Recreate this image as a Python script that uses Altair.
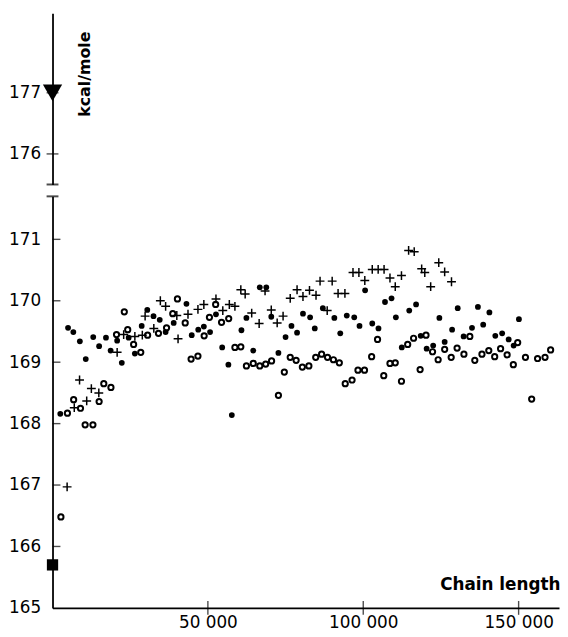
import altair as alt
import pandas as pd

# ---- data ----
filled_x = [2500, 5000, 6700, 8800, 10700, 13100, 15000, 17200, 18700, 20800, 22300, 24500,
            26500, 28700, 30500, 32500, 34500, 36400, 39000, 43100, 44800, 46900, 48700,
            50700, 52600, 54600, 56600, 57700, 60800, 62400, 64600, 66700, 68800, 70400, 72700,
            75000, 76900, 78700, 80600, 82900, 84400, 87000, 90700, 92600, 94700, 97100, 98800,
            100600, 102900, 104900, 107000, 109100, 110500, 112400, 114800, 117000, 118500,
            120400, 122500, 124500, 126200, 128600, 130400, 132300, 135000, 136900, 138600,
            140600, 142500, 144700, 146800, 148400, 150100]
filled_y = [168.16, 169.56, 169.49, 169.34, 169.05, 169.41, 169.26, 169.40, 169.19, 169.35, 168.99, 169.40,
            169.14, 169.59, 169.85, 169.75, 169.69, 169.49, 169.64, 169.95, 169.44, 169.53, 169.58,
            169.49, 169.78, 169.24, 168.96, 168.14, 169.52, 169.72, 169.19, 170.22, 170.22, 169.74, 169.15,
            169.41, 169.59, 169.48, 169.79, 169.73, 169.55, 169.88, 169.72, 169.47, 169.76, 169.73, 169.59,
            170.17, 169.63, 169.55, 169.98, 170.04, 169.73, 169.24, 169.84, 169.94, 169.43,
            169.22, 169.27, 169.72, 169.33, 169.53, 169.88, 169.42, 169.56, 169.90, 169.61,
            169.81, 169.43, 169.47, 169.37, 169.27, 169.70]

open_x = [2700, 4800, 6800, 9000, 10500, 13000, 15000, 16500, 18800, 20600, 23100, 24200, 26100,
          28400, 30600, 34100, 36700, 38700, 40200, 42700, 44600, 46800, 48800, 50500, 52500,
          54400, 56700, 58700, 60600, 62400, 64600, 66700, 68600, 70500, 72700, 74600, 76500,
          78400, 80400, 82500, 84700, 86600, 88500, 90400, 92300, 94200, 96400, 98300, 100400,
          102700, 104600, 106600, 108600, 110300, 112300, 114300, 116200, 118300, 120200,
          122300, 124100, 126200, 128300, 130200, 132400, 134300, 135900, 138200, 140400,
          142300, 144200, 146300, 148300, 149700, 152200, 154200, 156100, 158500, 160300]
open_y = [166.48, 168.17, 168.39, 168.25, 167.98, 167.98, 168.36, 168.65, 168.59, 169.45, 169.82, 169.53, 169.29,
          169.16, 169.44, 169.47, 169.56, 169.79, 170.03, 169.64, 169.05, 169.10, 169.43, 169.73, 169.94,
          169.65, 169.71, 169.24, 169.25, 168.94, 168.98, 168.94, 168.97, 169.02, 168.46, 168.84, 169.08,
          169.03, 168.92, 168.94, 169.08, 169.13, 169.08, 169.04, 168.99, 168.65, 168.71, 168.87, 168.87,
          169.09, 169.37, 168.78, 168.98, 168.99, 168.69, 169.29, 169.39, 168.88, 169.44,
          169.17, 169.04, 169.21, 169.08, 169.23, 169.13, 169.42, 169.03, 169.13, 169.19,
          169.09, 169.22, 169.12, 168.96, 169.32, 169.08, 168.40, 169.06, 169.08, 169.20]

plus_x = [4700, 7000, 8700, 11000, 12500, 14900, 20800, 22900, 26500, 28900, 29800, 32600,
          34700, 36400, 40000, 40400, 43600, 46800, 48700, 52600, 54800, 56900, 58700, 60600,
          62000, 64100, 66500, 68400, 70400, 72300, 74200, 76500, 78700, 80600, 82700, 84800,
          86100, 88400, 90000, 91900, 94100, 96700, 98600, 100500, 102900, 104800, 106700,
          108600, 110300, 112300, 114600, 116400, 118800, 119800, 121700, 124300, 126200, 128400]
plus_y = [166.97, 168.26, 168.71, 168.37, 168.57, 168.50, 169.16, 169.45, 169.42, 169.44, 169.75, 169.55,
          170.00, 169.91, 169.76, 169.38, 169.78, 169.86, 169.94, 170.03, 169.84, 169.94, 169.91, 170.18,
          170.11, 169.80, 169.63, 170.16, 169.85, 169.64, 169.75, 170.04, 170.18, 170.07, 170.17, 170.09,
          170.32, 169.84, 170.32, 170.12, 170.12, 170.46, 170.46, 170.33, 170.51, 170.51, 170.51,
          170.37, 170.23, 170.41, 170.82, 170.80, 170.52, 170.46, 170.23, 170.62, 170.47, 170.31]

square_x = [0]
square_y = [165.7]
triangle_x = [0]
triangle_y = [177.0]

lower_ticks = [165, 166, 167, 168, 169, 170, 171]
upper_ticks = [176, 177]
x_ticks = [50000, 100000, 150000]
lower_break = [171.7]
upper_break = [175.5]

X_DOMAIN = [0, 163000]
LOWER_DOMAIN = [165, 171.7]
UPPER_DOMAIN = [175.5, 178.3]

FONT = "DejaVu Sans"
W = 512
H_LOW = 416
H_UP = 173

xscale = alt.Scale(domain=X_DOMAIN, nice=False, zero=False)
lscale = alt.Scale(domain=LOWER_DOMAIN, nice=False, zero=False)
uscale = alt.Scale(domain=UPPER_DOMAIN, nice=False, zero=False)

x_axis = alt.Axis(values=x_ticks, ticks=False, grid=False, domainColor="black", domainWidth=1.6,
                  labelExpr="replace(format(datum.value, ','), ',', ' ')",
                  labelFont=FONT, labelFontSize=17, labelColor="black", labelPadding=7,
                  title="Chain length", titleFont=FONT, titleFontSize=17, titleFontWeight="bold",
                  titleColor="black", titleX=W + 1, titleY=-24, titleAlign="right",
                  titleBaseline="middle", titleAnchor="end")

y_axis_low = alt.Axis(values=lower_ticks, ticks=False, grid=False, domainColor="black",
                      domainWidth=1.8, format="d", labelFont=FONT, labelFontSize=17,
                      labelColor="black", labelPadding=12, title=None)

y_axis_up = alt.Axis(values=upper_ticks, ticks=False, grid=False, domainColor="black",
                     domainWidth=1.8, format="d", labelFont=FONT, labelFontSize=17,
                     labelColor="black", labelPadding=12,
                     title="kcal/mole", titleFont=FONT, titleFontSize=16, titleFontWeight="bold",
                     titleColor="black", titleAngle=270, titleX=32, titleY=61,
                     titleAlign="center", titleBaseline="middle")

df_f = pd.DataFrame({"x": filled_x, "y": filled_y})
df_o = pd.DataFrame({"x": open_x, "y": open_y})
df_p = pd.DataFrame({"x": plus_x, "y": plus_y})
df_sq = pd.DataFrame({"x": square_x, "y": square_y})
df_tri = pd.DataFrame({"x": triangle_x, "y": triangle_y})
df_lt = pd.DataFrame({"y": [t for t in lower_ticks if t != LOWER_DOMAIN[0]]})
df_ut = pd.DataFrame({"y": upper_ticks})
df_xt = pd.DataFrame({"x": x_ticks})
df_lb = pd.DataFrame({"y": lower_break})
df_ub = pd.DataFrame({"y": upper_break})

X = alt.X("x:Q", scale=xscale, axis=x_axis)
Y = alt.Y("y:Q", scale=lscale, axis=y_axis_low)

filled = alt.Chart(df_f).mark_point(shape="circle", filled=True, size=34, color="black",
                                    opacity=1).encode(x=X, y=Y)
opened = alt.Chart(df_o).mark_point(shape="circle", filled=False, size=28, color="black",
                                    strokeWidth=2, opacity=1).encode(x=X, y=Y)
plus = alt.Chart(df_p).mark_point(shape="M-1,0H1M0,-1V1", filled=False, size=80, color="black",
                                  strokeWidth=1.5, opacity=1).encode(x=X, y=Y)
square = alt.Chart(df_sq).mark_point(shape="square", filled=True, size=130, color="black",
                                     opacity=1).encode(x=X, y=Y)
ytick_low = alt.Chart(df_lt).mark_tick(orient="horizontal", size=8, thickness=1.4, color="black",
                                       xOffset=4).encode(x=alt.datum(0, scale=xscale), y=Y)
xtick = alt.Chart(df_xt).mark_tick(orient="vertical", size=14, thickness=1.4, color="black").encode(
    x=X, y=alt.datum(LOWER_DOMAIN[0]))
brk_low = alt.Chart(df_lb).mark_tick(orient="horizontal", size=12, thickness=2, color="black").encode(
    x=alt.datum(0), y=Y)

lower = alt.layer(filled, opened, plus, square, ytick_low, xtick, brk_low).properties(
    width=W, height=H_LOW)

XU = alt.X("x:Q", scale=xscale, axis=None)
YU = alt.Y("y:Q", scale=uscale, axis=y_axis_up)
tri = alt.Chart(df_tri).mark_point(shape="triangle-down", filled=True, size=380, color="black",
                                   opacity=1).encode(x=XU, y=YU)
ytick_up = alt.Chart(df_ut).mark_tick(orient="horizontal", size=12, thickness=1.4,
                                      color="black").encode(x=alt.datum(0), y=YU)
brk_up = alt.Chart(df_ub).mark_tick(orient="horizontal", size=12, thickness=2, color="black").encode(
    x=alt.datum(0), y=YU)
upper = alt.layer(tri, ytick_up, brk_up).properties(width=W, height=H_UP)

chart = alt.vconcat(upper, lower, spacing=10).properties(
    padding={"left": 0, "top": 2, "right": 0, "bottom": 0},
    background="white",
).configure_view(stroke=None)

chart.save("out.html", embed_options={"renderer": "svg", "actions": False})
